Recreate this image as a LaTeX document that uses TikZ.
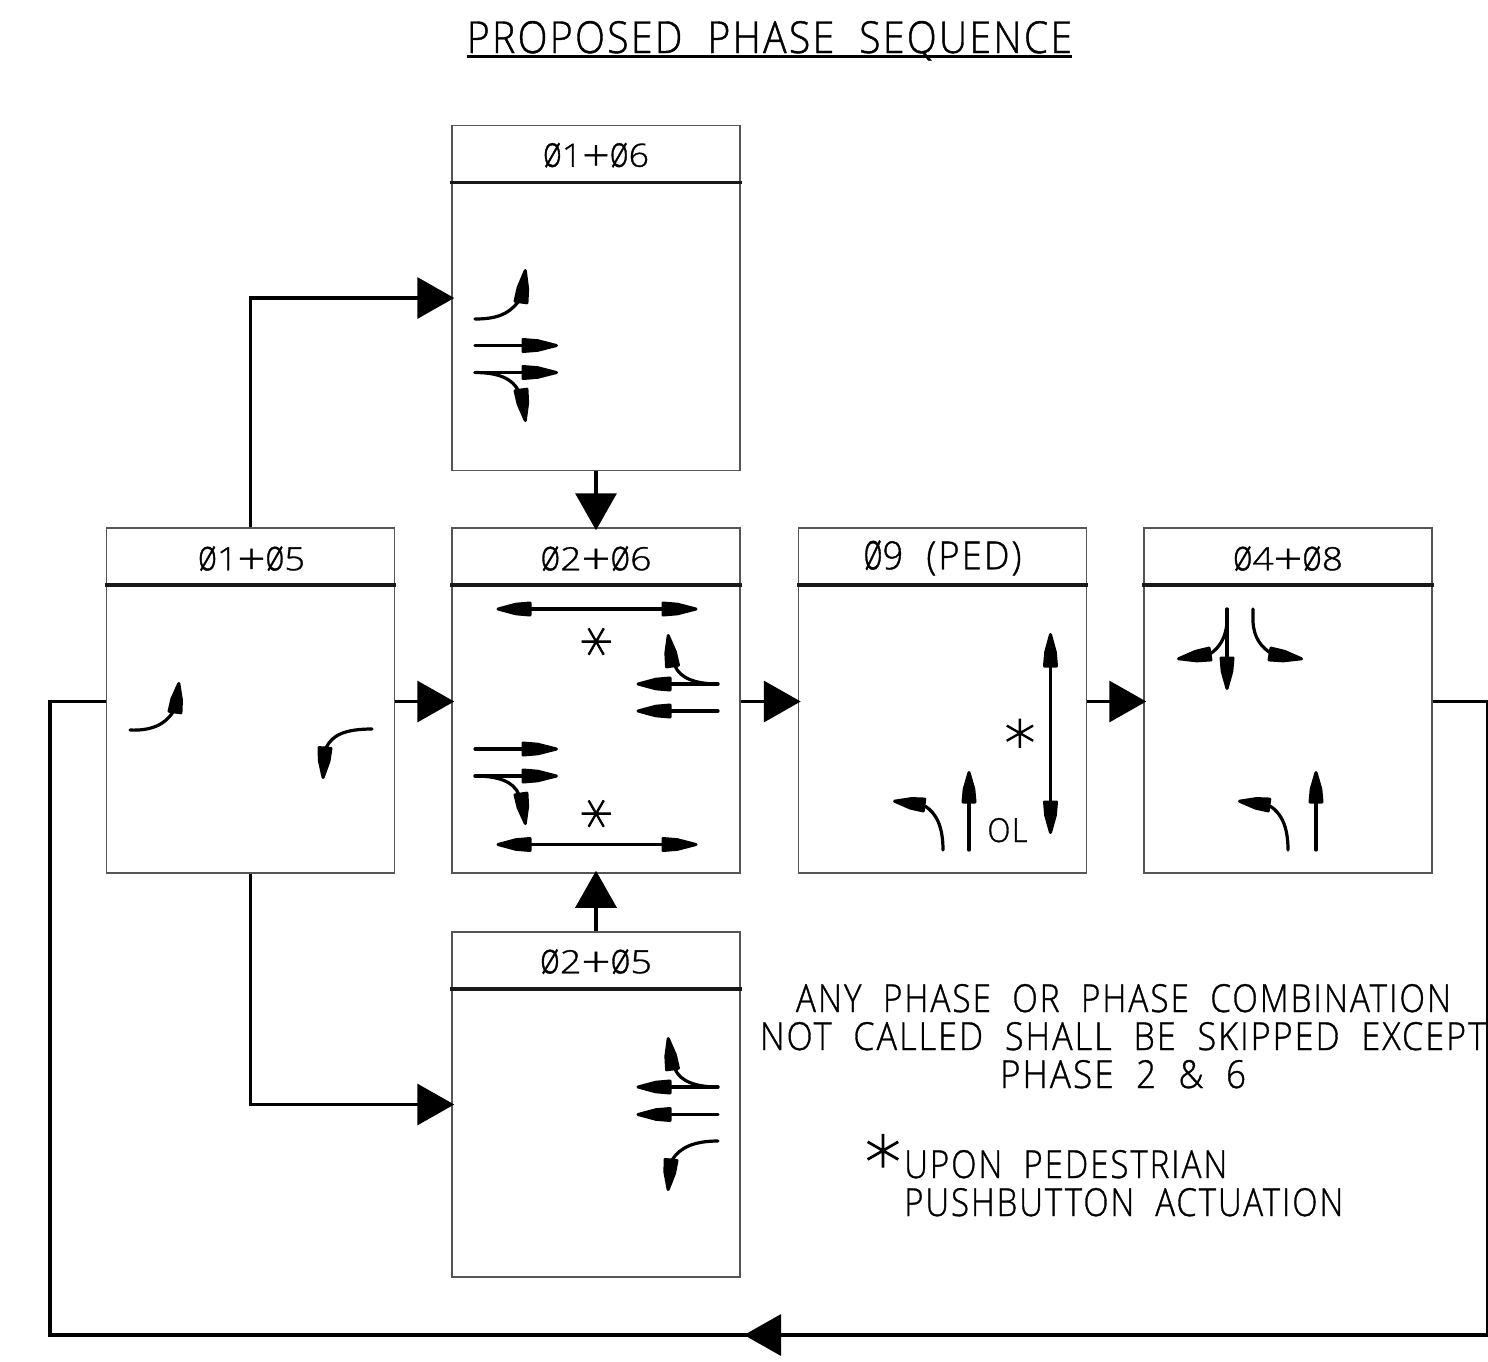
\documentclass[tikz,border=0pt]{standalone}
\usepackage{fontspec}
\usepackage{graphicx}
\usetikzlibrary{arrows.meta,calc}
\setmainfont{Liberation Sans}
\newfontfamily\cad[UprightFont=* Light,LetterSpace=6,WordSpace=2,FakeBold=1]{Open Sans}
\newfontfamily\stf[FakeBold=1.5]{DejaVu Sans ExtraLight}
\definecolor{boxgray}{HTML}{555555}
\newcommand\fit[3]{\resizebox{#1pt}{#2pt}{\cad #3}}
\newcommand\ph{\scalebox{0.9}[1.36]{ø}}
\newcommand\pl{\raisebox{-0.12em}{\scalebox{1.35}{+}}}
\newcommand\starglyph{\fontsize{62}{62}\selectfont\stf\smash{\raisebox{-0.51em}{*}}}
\newcommand\shead[2]{\coordinate (hs) at ($(#1)!0.42!(#2)$);
  \coordinate (ht) at ($(#2)!1.5pt!(#1)$);
  \filldraw[headglyph] ($(#1)!6pt!90:(#2)$) -- ($(hs)!4.8pt!90:(#2)$) -- (ht) -- ($(hs)!4.8pt!-90:(#2)$) -- ($(#1)!6pt!-90:(#2)$) -- cycle;}
\tikzset{
  phasebox/.style={draw=boxgray,line width=1.5pt,minimum width=288pt,minimum height=345pt,inner sep=0pt,fill=none},
  hdrrule/.style={line width=3.5pt,black!90},
  hdrtext/.style={anchor=base,inner sep=0pt},
  free/.style={anchor=base,inner sep=0pt},
  linktip/.style={-{Triangle[length=37pt,width=41pt]},shorten >=-3pt},
  link/.style={line width=3.5pt,black,line join=miter},
  gl/.style={line width=3.2pt,black,line cap=round},
  headglyph/.style={fill=black,draw=black,line width=3pt,line join=round},
  starmark/.style={inner sep=0pt,anchor=base},
}
\begin{document}
\begin{tikzpicture}[x=1pt,y=-1pt]
\useasboundingbox (0,0) rectangle (1488,1361);
% boxes
\node[phasebox] (A) at (250.5,700.5) {};
\node[phasebox] (T) at (596,298) {};
\node[phasebox] (M) at (596,700.5) {};
\node[phasebox] (P) at (942.5,700.5) {};
\node[phasebox] (R) at (1288,700.5) {};
\node[phasebox] (B) at (596,1104.5) {};
% header rules
\foreach \b in {A,T,M,P,R,B}{
  \draw[hdrrule] ([yshift=-57.5pt,xshift=-1pt]\b.north west) -- ([yshift=-57.5pt,xshift=1pt]\b.north east);
}
% header text
\node[hdrtext] (hT) at ([yshift=-42pt]T.north) {\fit{106}{24}{\ph1\pl\ph6}};
\node[hdrtext] (hA) at ([yshift=-43pt,xshift=1pt]A.north) {\fit{107}{24}{\ph1\pl\ph5}};
\node[hdrtext] (hM) at ([yshift=-43pt]M.north) {\fit{111}{24}{\ph2\pl\ph6}};
\node[hdrtext] (hP) at ([yshift=-42pt,xshift=0pt]P.north) {\fit{158}{29}{\ph9 (PED)}};
\node[hdrtext] (hR) at ([yshift=-43pt]R.north) {\fit{110}{24}{\ph4\pl\ph8}};
\node[hdrtext] (hB) at ([yshift=-42pt]B.north) {\fit{112}{24}{\ph2\pl\ph5}};
% title and notes
\node[free] (title) at (769.5,53) {\fit{605}{32}{PROPOSED PHASE SEQUENCE}};
\draw[line width=2.5pt] (title.south west |- 0,56.5) -- (title.south east |- 0,56.5);
\node[free] (n1) at (1123.5,1012) {\fit{655}{28}{ANY PHASE OR PHASE COMBINATION}};
\node[free] (n2) at (1123,1050) {\fit{726}{28}{NOT CALLED SHALL BE SKIPPED EXCEPT}};
\node[free] (n3) at (1123,1088) {\fit{246}{28}{PHASE 2 \& 6}};
\node[anchor=base west,inner sep=0pt] (n4) at (904,1178) {\fit{323}{28}{UPON PEDESTRIAN}};
\node[anchor=base west,inner sep=0pt] (n5) at (904,1216) {\fit{439}{28}{PUSHBUTTON ACTUATION}};
\node[starmark] (s0) at (883,1151) {\fontsize{72}{72}\selectfont\stf\smash{\raisebox{-0.51em}{*}}};
% connectors
\draw[link,linktip] (A.north) |- (T.west);
\draw[link,linktip] (A.south) |- (B.west);
\draw[link,linktip] ([yshift=-1pt]A.east) -- ([yshift=-1pt]M.west);
\draw[link,linktip] ([yshift=-1pt]M.east) -- ([yshift=-1pt]P.west);
\draw[link,linktip] ([yshift=-1pt]P.east) -- ([yshift=-1pt]R.west);
\draw[link,linktip] (T.south) -- (M.north);
\draw[link,linktip] (B.north) -- (M.south);
\coordinate (lr) at (1487.5,701.5);
\coordinate (lbr) at (1487.5,1335);
\coordinate (lm) at (747,1335);
\coordinate (lbl) at (50,1335);
\coordinate (ll) at (50,701.5);
\draw[link,linktip] ([yshift=-1pt]R.east) -- (lr) -- (lbr) -- (lm);
\draw[link] (lm) -- (lbl) -- (ll) -- ([yshift=-1pt]A.west);
% panel A
\draw[gl] (130,730) .. controls (150,731) and (165,725) .. (173,712);
\shead{175,712}{179,682}
\draw[gl] (372,729) .. controls (345,729) and (332,735) .. (326,748);
\shead{325,748}{323,779}
% panel T
\draw[gl] (475,319) .. controls (495,319) and (508,315) .. (518,302);
\shead{521,302}{525.5,269}
\draw[gl] (475,345.5) -- (523,345.5); \shead{523,345.5}{558,345.5}
\draw[gl] (475,372.5) -- (523,372.5); \shead{523,372.5}{558,372.5}
\draw[gl] (475,372.5) .. controls (497,372.5) and (513,378) .. (519,392);
\shead{521,390}{525.5,422}
% panel M
\draw[gl] (530,609) -- (663,609); \shead{530,609}{496.5,609} \shead{663,609}{697.5,609}
\node[starmark,rotate=90] (s1) at (596.5,641.5) {\starglyph};
\node[starmark,rotate=90] (s2) at (596.5,813.5) {\starglyph};
\draw[gl] (718,684) .. controls (695,684) and (680,678) .. (675,666);
\shead{672.5,666}{668,634}
\draw[gl] (718,684) -- (670,684); \shead{670,684}{636.5,684}
\draw[gl] (718,711) -- (670,711); \shead{670,711}{636.5,711}
\draw[gl] (475,749) -- (523,749); \shead{523,749}{558,749}
\draw[gl] (475,776) -- (523,776); \shead{523,776}{558,776}
\draw[gl] (475,776) .. controls (497,776) and (514,781) .. (519,795);
\shead{521,794}{525.5,825}
\draw[gl] (530,844.5) -- (663,844.5); \shead{530,844.5}{496.5,844.5} \shead{663,844.5}{697.5,844.5}
% panel B
\draw[gl] (718,1087) .. controls (695,1087) and (680,1081) .. (675,1069);
\shead{672.5,1069}{668,1037}
\draw[gl] (718,1087) -- (670,1087); \shead{670,1087}{636.5,1087}
\draw[gl] (718,1114.5) -- (670,1114.5); \shead{670,1114.5}{636.5,1114.5}
\draw[gl] (718,1141) .. controls (695,1141) and (680,1147) .. (672,1160);
\shead{671,1160}{668,1191}
% panel P
\draw[gl] (1050.5,666) -- (1050.5,802); \shead{1050.5,666}{1050.5,633} \shead{1050.5,802}{1050.5,834}
\node[starmark] (s3) at (1020,733.5) {\starglyph};
\node[anchor=base,inner sep=0pt] (ol) at (1007.5,842) {\fit{40}{24}{OL}};
\draw[gl] (943,850) .. controls (943,826) and (936,813) .. (925,806);
\shead{924,805}{893,801}
\draw[gl] (969,850) -- (969,802); \shead{969,802}{969,771}
% panel R
\draw[gl] (1227,609) -- (1227,658); \shead{1227,658}{1227,690}
\draw[gl] (1227,609) -- (1227,622) .. controls (1226,638) and (1219,648) .. (1210,654);
\shead{1210,654}{1177,659}
\draw[gl] (1253,609) -- (1253,622) .. controls (1254,638) and (1261,647) .. (1272,654);
\shead{1270,654}{1303,659}
\draw[gl] (1288,850) .. controls (1288,826) and (1281,813) .. (1270,806);
\shead{1269,805}{1238,801}
\draw[gl] (1316,850) -- (1316,802); \shead{1316,802}{1316,771}
\end{tikzpicture}
\end{document}
